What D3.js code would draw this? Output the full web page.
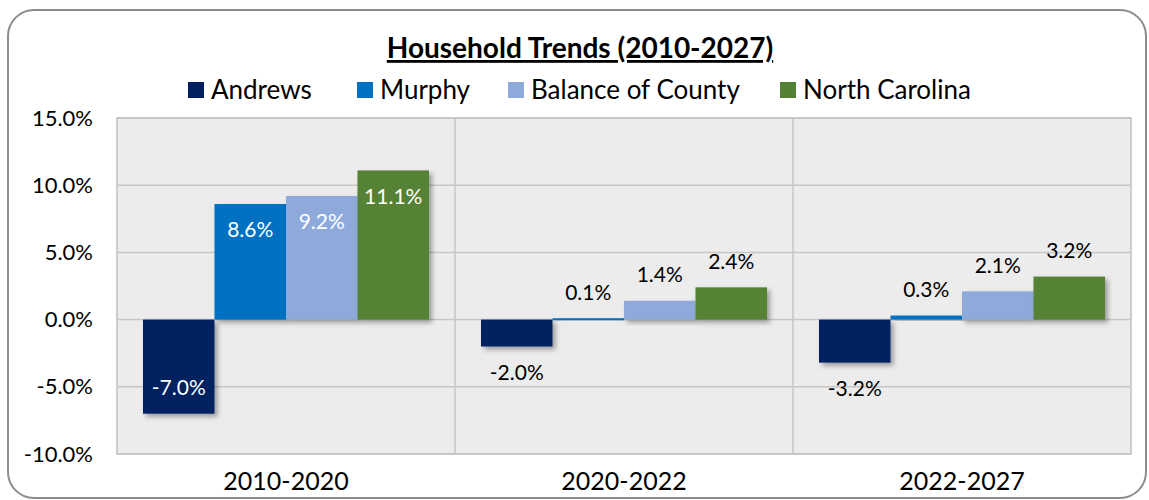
<!DOCTYPE html>
<html>
<head>
<meta charset="utf-8">
<script src="https://cdn.jsdelivr.net/npm/d3@7"></script>
<style>
  body { margin: 0; background: #fff; }
  text { font-family: Lato, "Open Sans", sans-serif; }
</style>
</head>
<body>
<div id="chart"></div>
<script>
// data
var periods = ["2010-2020", "2020-2022", "2022-2027"];
var seriesNames = ["Andrews", "Murphy", "Balance of County", "North Carolina"];
var andrews = [-7.0, -2.0, -3.2];
var murphy = [8.6, 0.1, 0.3];
var balance = [9.2, 1.4, 2.1];
var northCarolina = [11.1, 2.4, 3.2];
var yTicks = [-10, -5, 0, 5, 10, 15];
var colors = ["#002060", "#0070c0", "#8eaadb", "#548235"];

var seriesValues = [andrews, murphy, balance, northCarolina];
var rows = periods.map(function (p, i) {
  return {
    period: p,
    values: seriesNames.map(function (s, j) {
      return { name: s, value: seriesValues[j][i], color: colors[j] };
    })
  };
});

var w = 1149, h = 500;
var plot = { left: 117, right: 1131, top: 118, bottom: 454 };

var svg = d3.select("#chart").append("svg")
  .attr("width", w)
  .attr("height", h);

var defs = svg.append("defs");
var f = defs.append("filter").attr("id", "shadow")
  .attr("x", "-20%").attr("y", "-20%").attr("width", "150%").attr("height", "150%");
f.append("feDropShadow")
  .attr("dx", 3).attr("dy", 3).attr("stdDeviation", 2.5)
  .attr("flood-color", "#000").attr("flood-opacity", 0.35);

// outer frame
svg.append("rect")
  .attr("x", 8).attr("y", 10)
  .attr("width", 1138).attr("height", 488)
  .attr("rx", 26).attr("ry", 26)
  .attr("fill", "#fff")
  .attr("stroke", "#8c8c8c")
  .attr("stroke-width", 2);

var x0 = d3.scaleBand()
  .domain(periods)
  .range([plot.left, plot.right]);

var x1 = d3.scaleBand()
  .domain(seriesNames)
  .range([26, x0.bandwidth() - 26]);

var y = d3.scaleLinear()
  .domain([-10, 15])
  .range([plot.bottom, plot.top]);

// plot area
svg.append("rect")
  .attr("x", plot.left).attr("y", plot.top)
  .attr("width", plot.right - plot.left)
  .attr("height", plot.bottom - plot.top)
  .attr("fill", "#ececec")
  .attr("stroke", "#c0c0c0")
  .attr("stroke-width", 1.5);

// gridlines
svg.append("g")
  .selectAll("line")
  .data(yTicks)
  .enter()
  .append("line")
  .attr("x1", plot.left).attr("x2", plot.right)
  .attr("y1", function (d) { return y(d); })
  .attr("y2", function (d) { return y(d); })
  .attr("stroke", "#c6c6c6")
  .attr("stroke-width", 1.5);

svg.append("g")
  .selectAll("line")
  .data(periods.slice(1))
  .enter()
  .append("line")
  .attr("x1", function (d) { return x0(d); })
  .attr("x2", function (d) { return x0(d); })
  .attr("y1", plot.top).attr("y2", plot.bottom)
  .attr("stroke", "#c6c6c6")
  .attr("stroke-width", 1.5);

// y axis labels
var yAxis = svg.append("g")
  .attr("transform", "translate(" + (plot.left - 24) + ",0)")
  .call(d3.axisLeft(y).tickValues(yTicks).tickSize(0).tickPadding(0)
    .tickFormat(function (d) { return d.toFixed(1) + "%"; }));
yAxis.select(".domain").remove();
yAxis.selectAll("text")
  .attr("font-size", 22)
  .attr("fill", "#000")
  .style("font-family", "Lato, sans-serif");

// x axis labels
var xAxis = svg.append("g")
  .attr("transform", "translate(0," + (plot.bottom + 18) + ")")
  .call(d3.axisBottom(x0).tickSize(0).tickPadding(0));
xAxis.select(".domain").remove();
xAxis.selectAll("text")
  .attr("font-size", 25)
  .attr("fill", "#000")
  .style("font-family", "Lato, sans-serif");

// bars
var groups = svg.append("g")
  .selectAll("g")
  .data(rows)
  .enter()
  .append("g")
  .attr("transform", function (d) { return "translate(" + x0(d.period) + ",0)"; });

groups.selectAll("rect")
  .data(function (d) { return d.values; })
  .enter()
  .append("rect")
  .attr("x", function (d) { return x1(d.name); })
  .attr("y", function (d) { return Math.min(y(d.value), y(0)); })
  .attr("width", x1.bandwidth())
  .attr("height", function (d) { return Math.max(Math.abs(y(d.value) - y(0)), 2); })
  .attr("fill", function (d) { return d.color; })
  .attr("filter", "url(#shadow)");

// data labels: inside end for tall bars, outside end for short
groups.selectAll("text.lbl")
  .data(function (d) { return d.values; })
  .enter()
  .append("text")
  .attr("class", "lbl")
  .attr("x", function (d) { return x1(d.name) + x1.bandwidth() / 2; })
  .attr("y", function (d) {
    var inside = Math.abs(d.value) > 5;
    var dir = d.value >= 0 ? 1 : -1;
    var off = inside ? 26 : -26;
    return y(d.value) + dir * off;
  })
  .attr("dy", "0.35em")
  .attr("text-anchor", "middle")
  .attr("font-size", 21)
  .attr("fill", function (d) { return Math.abs(d.value) > 5 ? "#fff" : "#000"; })
  .text(function (d) { return d.value.toFixed(1) + "%"; });

// title
svg.append("text")
  .attr("x", 580).attr("y", 58)
  .attr("text-anchor", "middle")
  .attr("font-size", 28)
  .attr("font-weight", "bold")
  .attr("text-decoration", "underline")
  .text("Household Trends (2010-2027)");

// legend
var legendX = [188, 357, 508, 780];
var legend = svg.append("g")
  .selectAll("g")
  .data(seriesNames)
  .enter()
  .append("g")
  .attr("transform", function (d, i) { return "translate(" + legendX[i] + ",90)"; });
legend.append("rect")
  .attr("x", 0).attr("y", -8)
  .attr("width", 16).attr("height", 16)
  .attr("fill", function (d, i) { return colors[i]; });
legend.append("text")
  .attr("x", 23).attr("y", 0)
  .attr("dy", "0.35em")
  .attr("font-size", 26)
  .text(function (d) { return d; });
</script>
</body>
</html>
